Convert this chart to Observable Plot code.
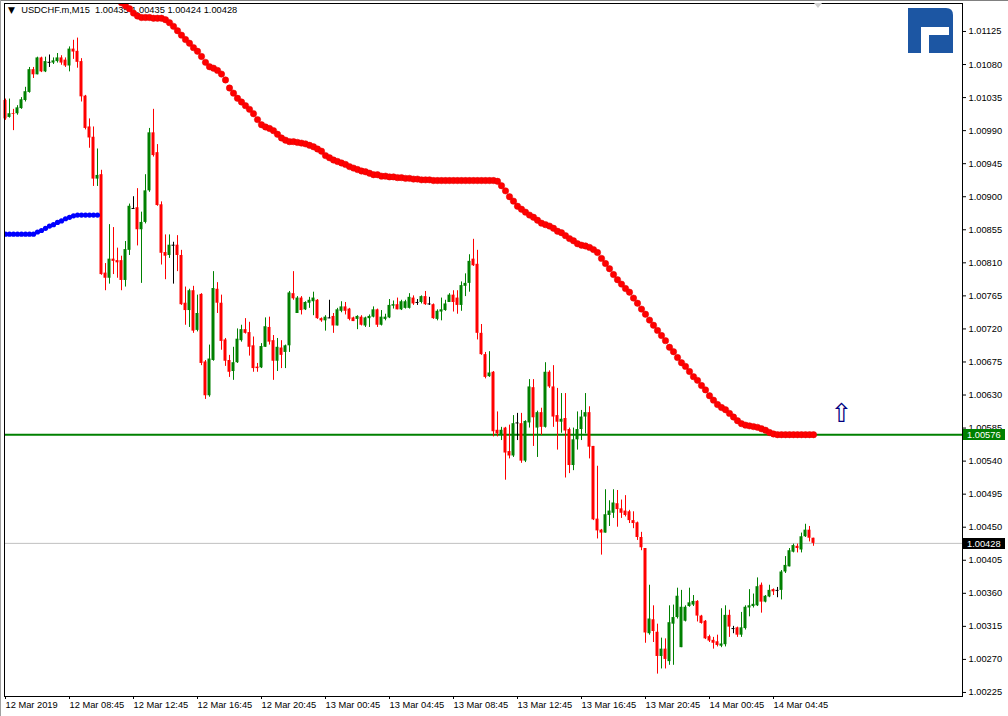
<!DOCTYPE html>
<html><head><meta charset="utf-8">
<script src="https://cdn.jsdelivr.net/npm/d3@7"></script>
<script src="https://cdn.jsdelivr.net/npm/@observablehq/plot@0.6"></script>
<style>
html,body{margin:0;padding:0;background:#fff;}
#chart{position:relative;width:1008px;height:716px;overflow:hidden;}
</style></head><body><div id="chart"></div>
<script>
const symbolTitle = "USDCHF.m,M15\u00a0\u00a01.00435 1.00435 1.00424 1.00428";
const xTickIdx = [0,16,32,48,64,80,96,112,128,144,160,176,192];
const xTickLabels = ["12 Mar 2019","12 Mar 08:45","12 Mar 12:45","12 Mar 16:45","12 Mar 20:45","13 Mar 00:45","13 Mar 04:45","13 Mar 08:45","13 Mar 12:45","13 Mar 16:45","13 Mar 20:45","14 Mar 00:45","14 Mar 04:45"];
const yTicks = [1.00225,1.00270,1.00315,1.00360,1.00405,1.00450,1.00495,1.00540,1.00585,1.00630,1.00675,1.00720,1.00765,1.00810,1.00855,1.00900,1.00945,1.00990,1.01035,1.01080,1.01125];
const levelPrice = 1.00576;
const lastPrice = 1.00428;
const signalIndex = [209];
const signalPrice = [1.00605];

const open = [1.01031,1.01008,1.01013,1.01013,1.01020,1.01031,1.01042,1.01073,1.01066,1.01089,
1.01070,1.01083,1.01082,1.01084,1.01089,1.01086,1.01078,1.01101,1.01098,1.01084,
1.01037,1.00995,1.00981,1.00924,1.00930,1.00796,1.00789,1.00815,1.00813,1.00813,
1.00786,1.00827,1.00884,1.00885,1.00855,1.00865,1.00908,1.00987,1.00960,1.00889,
1.00824,1.00820,1.00834,1.00834,1.00820,1.00755,1.00745,1.00772,1.00718,1.00767,
1.00675,1.00629,1.00677,1.00774,1.00755,1.00705,1.00677,1.00662,1.00674,1.00704,
1.00719,1.00715,1.00697,1.00668,1.00667,1.00695,1.00722,1.00704,1.00676,1.00694,
1.00688,1.00697,1.00768,1.00741,1.00762,1.00746,1.00755,1.00757,1.00759,1.00734,
1.00731,1.00735,1.00737,1.00724,1.00744,1.00750,1.00747,1.00735,1.00733,1.00736,
1.00724,1.00734,1.00736,1.00746,1.00725,1.00733,1.00735,1.00751,1.00753,1.00746,
1.00748,1.00748,1.00762,1.00756,1.00756,1.00764,1.00754,1.00753,1.00733,1.00743,
1.00745,1.00756,1.00766,1.00762,1.00752,1.00778,1.00782,1.00815,1.00808,1.00714,
1.00685,1.00655,1.00661,1.00582,1.00575,1.00585,1.00553,1.00547,1.00592,1.00591,
1.00540,1.00592,1.00640,1.00585,1.00606,1.00586,1.00661,1.00641,1.00602,1.00593,
1.00598,1.00583,1.00534,1.00569,1.00583,1.00600,1.00606,1.00560,1.00461,1.00446,
1.00442,1.00466,1.00469,1.00482,1.00475,1.00472,1.00471,1.00459,1.00456,1.00436,
1.00421,1.00305,1.00324,1.00307,1.00274,1.00284,1.00267,1.00318,1.00327,1.00286,
1.00322,1.00342,1.00344,1.00349,1.00329,1.00322,1.00301,1.00296,1.00294,1.00288,
1.00290,1.00330,1.00312,1.00313,1.00303,1.00312,1.00340,1.00342,1.00343,1.00371,
1.00348,1.00355,1.00365,1.00364,1.00364,1.00389,1.00396,1.00416,1.00424,1.00419,
1.00437,1.00446,1.00435];

const high = [1.01033,1.01033,1.01019,1.01024,1.01035,1.01049,1.01076,1.01076,1.01090,1.01090,
1.01090,1.01093,1.01089,1.01095,1.01092,1.01089,1.01104,1.01113,1.01116,1.01088,
1.01038,1.01006,1.00995,1.00965,1.00936,1.00809,1.00862,1.00858,1.00830,1.00819,
1.00839,1.00890,1.00900,1.00911,1.00879,1.00930,1.00993,1.01019,1.00971,1.00893,
1.00848,1.00848,1.00838,1.00847,1.00827,1.00777,1.00774,1.00778,1.00766,1.00768,
1.00677,1.00698,1.00798,1.00783,1.00766,1.00707,1.00684,1.00695,1.00720,1.00725,
1.00734,1.00729,1.00709,1.00673,1.00700,1.00735,1.00736,1.00711,1.00707,1.00704,
1.00698,1.00771,1.00798,1.00764,1.00764,1.00757,1.00763,1.00770,1.00760,1.00735,
1.00738,1.00759,1.00741,1.00748,1.00757,1.00756,1.00748,1.00736,1.00738,1.00738,
1.00736,1.00739,1.00750,1.00747,1.00745,1.00740,1.00760,1.00758,1.00762,1.00759,
1.00759,1.00768,1.00765,1.00760,1.00765,1.00771,1.00763,1.00754,1.00746,1.00762,
1.00759,1.00768,1.00772,1.00772,1.00784,1.00795,1.00821,1.00842,1.00827,1.00726,
1.00688,1.00689,1.00662,1.00607,1.00586,1.00586,1.00589,1.00602,1.00605,1.00605,
1.00595,1.00651,1.00651,1.00608,1.00612,1.00674,1.00663,1.00670,1.00639,1.00632,
1.00632,1.00585,1.00585,1.00607,1.00609,1.00632,1.00614,1.00560,1.00533,1.00447,
1.00501,1.00486,1.00501,1.00500,1.00487,1.00493,1.00473,1.00471,1.00457,1.00443,
1.00421,1.00371,1.00343,1.00318,1.00299,1.00298,1.00343,1.00344,1.00367,1.00364,
1.00343,1.00367,1.00357,1.00350,1.00330,1.00323,1.00303,1.00300,1.00303,1.00339,
1.00343,1.00337,1.00315,1.00314,1.00334,1.00343,1.00365,1.00359,1.00381,1.00374,
1.00357,1.00371,1.00366,1.00368,1.00391,1.00410,1.00421,1.00427,1.00427,1.00442,
1.00454,1.00451,1.00435];

const low = [1.01004,1.01007,1.00990,1.01011,1.01019,1.01029,1.01041,1.01061,1.01066,1.01069,
1.01069,1.01076,1.01080,1.01082,1.01079,1.01076,1.01070,1.01087,1.01075,1.01029,
1.00991,1.00966,1.00914,1.00914,1.00793,1.00772,1.00781,1.00794,1.00789,1.00772,
1.00777,1.00820,1.00883,1.00833,1.00782,1.00863,1.00906,1.00954,1.00887,1.00807,
1.00787,1.00816,1.00781,1.00798,1.00752,1.00725,1.00722,1.00714,1.00716,1.00670,
1.00624,1.00627,1.00676,1.00741,1.00691,1.00669,1.00654,1.00650,1.00673,1.00702,
1.00713,1.00683,1.00661,1.00661,1.00666,1.00695,1.00698,1.00650,1.00662,1.00666,
1.00666,1.00688,1.00759,1.00741,1.00739,1.00745,1.00748,1.00738,1.00733,1.00729,
1.00717,1.00734,1.00714,1.00724,1.00742,1.00739,1.00731,1.00730,1.00719,1.00724,
1.00722,1.00722,1.00735,1.00722,1.00724,1.00731,1.00734,1.00747,1.00746,1.00745,
1.00747,1.00747,1.00752,1.00752,1.00754,1.00752,1.00752,1.00733,1.00731,1.00731,
1.00744,1.00756,1.00743,1.00740,1.00744,1.00764,1.00770,1.00805,1.00705,1.00684,
1.00652,1.00654,1.00573,1.00573,1.00568,1.00514,1.00543,1.00545,1.00568,1.00537,
1.00538,1.00585,1.00560,1.00545,1.00575,1.00585,1.00639,1.00586,1.00555,1.00578,
1.00517,1.00523,1.00527,1.00555,1.00568,1.00577,1.00543,1.00459,1.00434,1.00412,
1.00442,1.00451,1.00462,1.00450,1.00462,1.00464,1.00455,1.00448,1.00432,1.00418,
1.00292,1.00303,1.00293,1.00250,1.00257,1.00257,1.00262,1.00262,1.00325,1.00286,
1.00321,1.00341,1.00342,1.00321,1.00318,1.00297,1.00293,1.00284,1.00287,1.00286,
1.00287,1.00300,1.00305,1.00300,1.00300,1.00310,1.00328,1.00340,1.00342,1.00333,
1.00347,1.00354,1.00357,1.00354,1.00351,1.00387,1.00396,1.00415,1.00415,1.00415,
1.00436,1.00430,1.00424];

const close = [1.01006,1.01013,1.01012,1.01021,1.01032,1.01043,1.01073,1.01066,1.01089,1.01070,
1.01084,1.01083,1.01085,1.01089,1.01082,1.01078,1.01101,1.01097,1.01083,1.01036,
1.00993,1.00980,1.00924,1.00929,1.00794,1.00789,1.00815,1.00812,1.00810,1.00786,
1.00828,1.00887,1.00884,1.00855,1.00865,1.00908,1.00987,1.00956,1.00888,1.00823,
1.00819,1.00834,1.00834,1.00820,1.00753,1.00745,1.00772,1.00717,1.00741,1.00673,
1.00629,1.00679,1.00775,1.00755,1.00703,1.00676,1.00661,1.00674,1.00706,1.00719,
1.00714,1.00695,1.00666,1.00666,1.00696,1.00723,1.00702,1.00676,1.00695,1.00684,
1.00697,1.00769,1.00761,1.00762,1.00745,1.00756,1.00759,1.00762,1.00734,1.00731,
1.00736,1.00735,1.00724,1.00746,1.00750,1.00744,1.00733,1.00730,1.00737,1.00725,
1.00735,1.00737,1.00746,1.00725,1.00736,1.00736,1.00752,1.00753,1.00746,1.00757,
1.00757,1.00763,1.00754,1.00756,1.00764,1.00753,1.00754,1.00734,1.00744,1.00746,
1.00754,1.00766,1.00756,1.00752,1.00779,1.00782,1.00812,1.00806,1.00714,1.00685,
1.00654,1.00660,1.00580,1.00577,1.00582,1.00551,1.00547,1.00591,1.00592,1.00540,
1.00594,1.00641,1.00599,1.00606,1.00586,1.00661,1.00641,1.00600,1.00593,1.00597,
1.00581,1.00534,1.00569,1.00583,1.00600,1.00606,1.00559,1.00460,1.00445,1.00442,
1.00467,1.00472,1.00483,1.00474,1.00469,1.00466,1.00459,1.00455,1.00436,1.00422,
1.00306,1.00325,1.00308,1.00274,1.00284,1.00270,1.00320,1.00327,1.00356,1.00341,
1.00341,1.00347,1.00349,1.00329,1.00319,1.00298,1.00295,1.00292,1.00289,1.00291,
1.00330,1.00314,1.00312,1.00303,1.00313,1.00341,1.00343,1.00345,1.00369,1.00348,
1.00356,1.00364,1.00362,1.00364,1.00389,1.00398,1.00418,1.00425,1.00421,1.00437,
1.00446,1.00435,1.00428];

// red dotted indicator, starting at bar 29
const redStart = 29;
const redDots = [1.01164,1.01160,1.01156,1.01150,1.01146,1.01144,1.01144,1.01144,1.01143,1.01143,
1.01143,1.01141,1.01137,1.01132,1.01126,1.01120,1.01114,1.01109,1.01103,1.01098,
1.01091,1.01083,1.01077,1.01075,1.01072,1.01067,1.01059,1.01048,1.01041,1.01034,
1.01029,1.01024,1.01019,1.01013,1.01005,1.00998,1.00995,1.00993,1.00990,1.00985,
1.00980,1.00977,1.00975,1.00975,1.00974,1.00973,1.00972,1.00970,1.00968,1.00965,
1.00962,1.00956,1.00953,1.00950,1.00948,1.00946,1.00944,1.00941,1.00939,1.00937,
1.00935,1.00934,1.00932,1.00930,1.00930,1.00928,1.00928,1.00927,1.00927,1.00926,
1.00926,1.00925,1.00925,1.00924,1.00924,1.00923,1.00923,1.00923,1.00922,1.00922,
1.00922,1.00922,1.00922,1.00922,1.00922,1.00922,1.00922,1.00922,1.00922,1.00922,
1.00922,1.00922,1.00922,1.00922,1.00921,1.00915,1.00908,1.00900,1.00894,1.00887,
1.00883,1.00879,1.00875,1.00872,1.00868,1.00864,1.00862,1.00860,1.00857,1.00853,
1.00851,1.00847,1.00843,1.00840,1.00836,1.00834,1.00833,1.00831,1.00828,1.00824,
1.00816,1.00809,1.00802,1.00794,1.00787,1.00781,1.00775,1.00770,1.00762,1.00755,
1.00747,1.00740,1.00732,1.00725,1.00718,1.00711,1.00704,1.00695,1.00689,1.00681,
1.00674,1.00669,1.00662,1.00655,1.00650,1.00643,1.00637,1.00629,1.00623,1.00617,
1.00613,1.00610,1.00605,1.00600,1.00595,1.00591,1.00589,1.00588,1.00587,1.00586,
1.00584,1.00582,1.00579,1.00577,1.00576,1.00576,1.00576,1.00576,1.00576,1.00576,
1.00576,1.00576,1.00576,1.00576];

// blue dotted indicator, bars 0..23
const blueDots = [1.00849,1.00849,1.00849,1.00849,1.00849,1.00849,1.00849,1.00849,1.00852,1.00854,
1.00857,1.00860,1.00862,1.00865,1.00867,1.00870,1.00872,1.00874,1.00875,1.00875,
1.00875,1.00875,1.00875,1.00875];

const upColor = "#008000", downColor = "#ff0000", flatColor = "#000000";
const candles = open.map((o, i) => ({
  i, open: o, high: high[i], low: low[i], close: close[i],
  color: close[i] > o ? upColor : close[i] < o ? downColor : flatColor
}));
const bodies = candles.filter(d => d.open !== d.close);
const dojis = candles.filter(d => d.open === d.close);
const redData = redDots.map((v, k) => ({i: redStart + k, v}));
const blueData = blueDots.map((v, i) => ({i, v}));
const signals = signalIndex.map((i, k) => ({i, v: signalPrice[k]}));
const xLabel = new Map(xTickIdx.map((v, k) => [v, xTickLabels[k]]));
const FONT = "'Liberation Sans', Arial, sans-serif";

const plot = Plot.plot({
  width: 1008, height: 716,
  marginLeft: 4, marginRight: 46, marginTop: 3, marginBottom: 20,
  style: {fontFamily: FONT, fontSize: "9.3px", background: "#fff", color: "#000", overflow: "visible"},
  x: {type: "linear", domain: [-0.25, 239.25]},
  y: {type: "linear", domain: [1.002195, 1.011631]},
  color: {type: "identity"},
  marks: [
    Plot.ruleY([lastPrice], {stroke: "#c0c0c0", strokeWidth: 1}),
    Plot.ruleY([levelPrice], {stroke: "#008000", strokeWidth: 2}),
    Plot.text([symbolTitle], {text: d => d, frameAnchor: "top-left", dx: 16.7, dy: 3, fontSize: 9.3, fill: "#000", textAnchor: "start", lineAnchor: "top"}),
    Plot.text(["\u25BC"], {text: d => d, frameAnchor: "top-left", dx: 3.5, dy: 3.5, fontSize: 9, fill: "#000", textAnchor: "start", lineAnchor: "top", fontFamily: "DejaVu Sans"}),
    Plot.ruleX(candles, {x: "i", y1: "low", y2: "high", stroke: "color", strokeWidth: 1}),
    Plot.rect(bodies, {x1: d => d.i - 0.375, x2: d => d.i + 0.375, y1: "open", y2: "close", fill: "color"}),
    Plot.ruleY(dojis, {y: "open", x1: d => d.i - 0.375, x2: d => d.i + 0.375, stroke: "color", strokeWidth: 1}),
    Plot.dot(blueData, {x: "i", y: "v", r: 2.6, fill: "#0000ff", stroke: "none", clip: true}),
    Plot.dot(redData, {x: "i", y: "v", r: 3.2, fill: "#ff0000", stroke: "#e00000", strokeWidth: 0.5, clip: true}),
    Plot.text(signals, {x: "i", y: "v", text: () => "\u21E7", fontSize: 26, fill: "#000080", fontFamily: "DejaVu Sans"}),
    Plot.frame({stroke: "#000"}),
    Plot.axisY({anchor: "right", ticks: yTicks, tickFormat: d3.format(".5f"), tickSize: 3, tickPadding: 3, label: null, fontSize: 9.3}),
    Plot.axisX({anchor: "bottom", ticks: xTickIdx, tickFormat: d => xLabel.get(d), tickSize: 3, tickPadding: 2, textAnchor: "start", label: null, fontSize: 9.3})
  ]
});

document.getElementById("chart").appendChild(plot);

// decorations and price labels placed with the plot's own scales
const svg = d3.select(plot);
const ys = plot.scale("y");
function priceBox(v, bg) {
  const py = ys.apply(v);
  svg.append("rect").attr("x", 963).attr("y", Math.round(py) - 5).attr("width", 42).attr("height", 11).attr("fill", bg);
  svg.append("text").attr("x", 967).attr("y", Math.round(py) + 0.5).attr("dy", "0.35em")
    .attr("text-anchor", "start")
    .attr("fill", "#fff").attr("font-family", FONT).attr("font-size", "9.3px").text(d3.format(".5f")(v));
}
priceBox(levelPrice, "#008000");
priceBox(lastPrice, "#000000");

// window borders
svg.append("rect").attr("x", 0).attr("y", 0).attr("width", 1008).attr("height", 1).attr("fill", "#808080");
svg.append("rect").attr("x", 0).attr("y", 0).attr("width", 1).attr("height", 716).attr("fill", "#a0a0a0");
// chart-shift marker
svg.append("path").attr("d", "M814,3 L822,3 L818,8 Z").attr("fill", "#d0d0d0");
// broker logo
svg.append("path").attr("fill", "#1c56a3")
  .attr("d", "M908,8 H946 Q953,8 953,15 V53 H929 V35 H949 V27 H921 V53 H908 Z");
</script>
</body></html>
